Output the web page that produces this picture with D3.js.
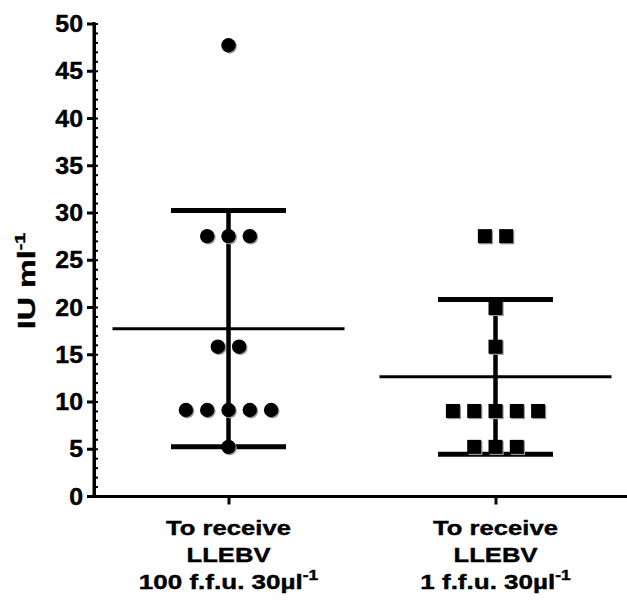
<!DOCTYPE html>
<html><head><meta charset="utf-8">
<script src="https://cdn.jsdelivr.net/npm/d3@7"></script>
<style>body{margin:0;background:#fff} svg{display:block}</style>
</head><body>
<script>
// ---- data ----
const groups = ["100 f.f.u.", "1 f.f.u."];
const labelLine1 = ["To receive", "To receive"];
const labelLine2 = ["LLEBV", "LLEBV"];
const labelLine3 = ["100 f.f.u. 30µl", "1 f.f.u. 30µl"];
const group1Values = [47.7, 27.5, 27.5, 27.5, 15.8, 15.8, 9.1, 9.1, 9.1, 9.1, 9.1, 5.2];
const group2Values = [27.5, 27.5, 19.9, 15.8, 9.0, 9.0, 9.0, 9.0, 9.0, 5.2, 5.2, 5.2];
const yTicks = [0, 5, 10, 15, 20, 25, 30, 35, 40, 45, 50];
const yMinorTicks = d3.range(0, 51, 1);
const yTitle = "IU ml";
const supText = "-1";

const values = [group1Values, group2Values];
const symbols = ["circle", "square"];

const W = 627, H = 601;
const svg = d3.select("body").append("svg").attr("width", W).attr("height", H);
const font = "'Liberation Sans', Arial, Helvetica, sans-serif";

const y = d3.scaleLinear().domain([0, 50]).range([496, 23.5]);
const x = d3.scalePoint().domain(groups).range([95, 629]).padding(0.5);

// y axis minor ticks (right side)
const gMinor = svg.append("g").attr("transform", "translate(94,0)")
  .call(d3.axisRight(y).tickValues(yMinorTicks).tickSize(4).tickFormat(""));
gMinor.select(".domain").remove();
gMinor.selectAll(".tick line").attr("stroke", "#000").attr("stroke-width", 2);

// y axis major
const gY = svg.append("g").attr("transform", "translate(94,0)")
  .call(d3.axisLeft(y).tickValues(yTicks).tickSize(7).tickSizeOuter(0).tickPadding(4));
gY.select(".domain").attr("stroke", "#000").attr("stroke-width", 3);
gY.selectAll(".tick line").attr("stroke", "#000").attr("stroke-width", 3);
gY.selectAll(".tick text")
  .attr("font-family", font).attr("font-weight", "bold").attr("font-size", 23.5)
  .attr("fill", "#000").attr("stroke", "#000").attr("stroke-width", 0.4)
  .attr("x", 0).attr("dy", "0.35em")
  .attr("transform", "translate(-11,0) scale(1.06,1)");
svg.append("rect").attr("x", 92.5).attr("y", y(50) - 1.5).attr("width", 3).attr("height", y(0) - y(50) + 3)
  .attr("fill", "#000");

// x axis
const gX = svg.append("g").attr("transform", "translate(0,496.5)")
  .call(d3.axisBottom(x).tickSize(8).tickSizeOuter(0).tickFormat(""));
gX.select(".domain").remove();
gX.selectAll(".tick line").attr("stroke", "#000").attr("stroke-width", 3);
svg.append("rect").attr("x", 92.5).attr("y", 495).attr("width", W - 92.5).attr("height", 3)
  .attr("fill", "#000");

// x labels
groups.forEach((g, i) => {
  const cx = x(g);
  const lines = [labelLine1[i], labelLine2[i]];
  lines.forEach((t, j) => {
    svg.append("text")
      .attr("transform", `translate(${cx},${534.5 + j * 27}) scale(1.22,1)`)
      .attr("text-anchor", "middle").attr("font-family", font)
      .attr("font-weight", "bold").attr("font-size", 21).attr("fill", "#000")
      .attr("stroke", "#000").attr("stroke-width", 0.4).text(t);
  });
  const t3 = svg.append("text")
    .attr("transform", `translate(${cx},${588.5}) scale(1.24,1)`)
    .attr("text-anchor", "middle").attr("font-family", font)
    .attr("font-weight", "bold").attr("font-size", 21).attr("fill", "#000")
    .attr("stroke", "#000").attr("stroke-width", 0.4);
  t3.append("tspan").text(labelLine3[i]);
  t3.append("tspan").attr("dy", -9).attr("font-size", 14).text(supText);
});

// y title
const yt = svg.append("text")
  .attr("transform", "translate(35,281) rotate(-90) scale(1.32,1)")
  .attr("text-anchor", "middle").attr("font-family", font)
  .attr("font-weight", "bold").attr("font-size", 24.5).attr("fill", "#000")
  .attr("stroke", "#000").attr("stroke-width", 0.4);
yt.append("tspan").text(yTitle);
yt.append("tspan").attr("dy", -10).attr("font-size", 15).text(supText);

// error bars (mean ± SD)
groups.forEach((g, i) => {
  const cx = x(g);
  const m = d3.mean(values[i]);
  const sd = d3.deviation(values[i]);
  const gE = svg.append("g");
  gE.append("line").attr("x1", cx).attr("x2", cx).attr("y1", y(m + sd)).attr("y2", y(m - sd))
    .attr("stroke", "#000").attr("stroke-width", 4.5);
  [m + sd, m - sd].forEach(v => {
    gE.append("line").attr("x1", cx - 57.5).attr("x2", cx + 57.5).attr("y1", y(v)).attr("y2", y(v))
      .attr("stroke", "#000").attr("stroke-width", 5);
  });
  gE.append("line").attr("x1", cx - 116).attr("x2", cx + 116).attr("y1", y(m)).attr("y2", y(m))
    .attr("stroke", "#000").attr("stroke-width", 3);
});

// points (equal values spread horizontally)
const spacing = 21.3;
groups.forEach((g, i) => {
  const cx = x(g);
  const counts = d3.rollup(values[i], v => v.length, d => d);
  const pts = [];
  counts.forEach((n, v) => {
    for (let k = 0; k < n; k++) pts.push({ v, dx: (k - (n - 1) / 2) * spacing });
  });
  const sym = d3.symbol().type(symbols[i] === "circle" ? d3.symbolCircle : d3.symbolSquare)
    .size(symbols[i] === "circle" ? Math.PI * 7.2 * 7.2 : 14 * 14);
  const gp = svg.append("g");
  pts.forEach(p => {
    gp.append("path").attr("d", sym())
      .attr("transform", `translate(${cx + p.dx + 1.2},${y(p.v) + 1.2})`)
      .attr("fill", "#999");
  });
  pts.forEach(p => {
    gp.append("path").attr("d", sym())
      .attr("transform", `translate(${cx + p.dx},${y(p.v)})`)
      .attr("fill", "#000");
  });
});
</script>
</body></html>
